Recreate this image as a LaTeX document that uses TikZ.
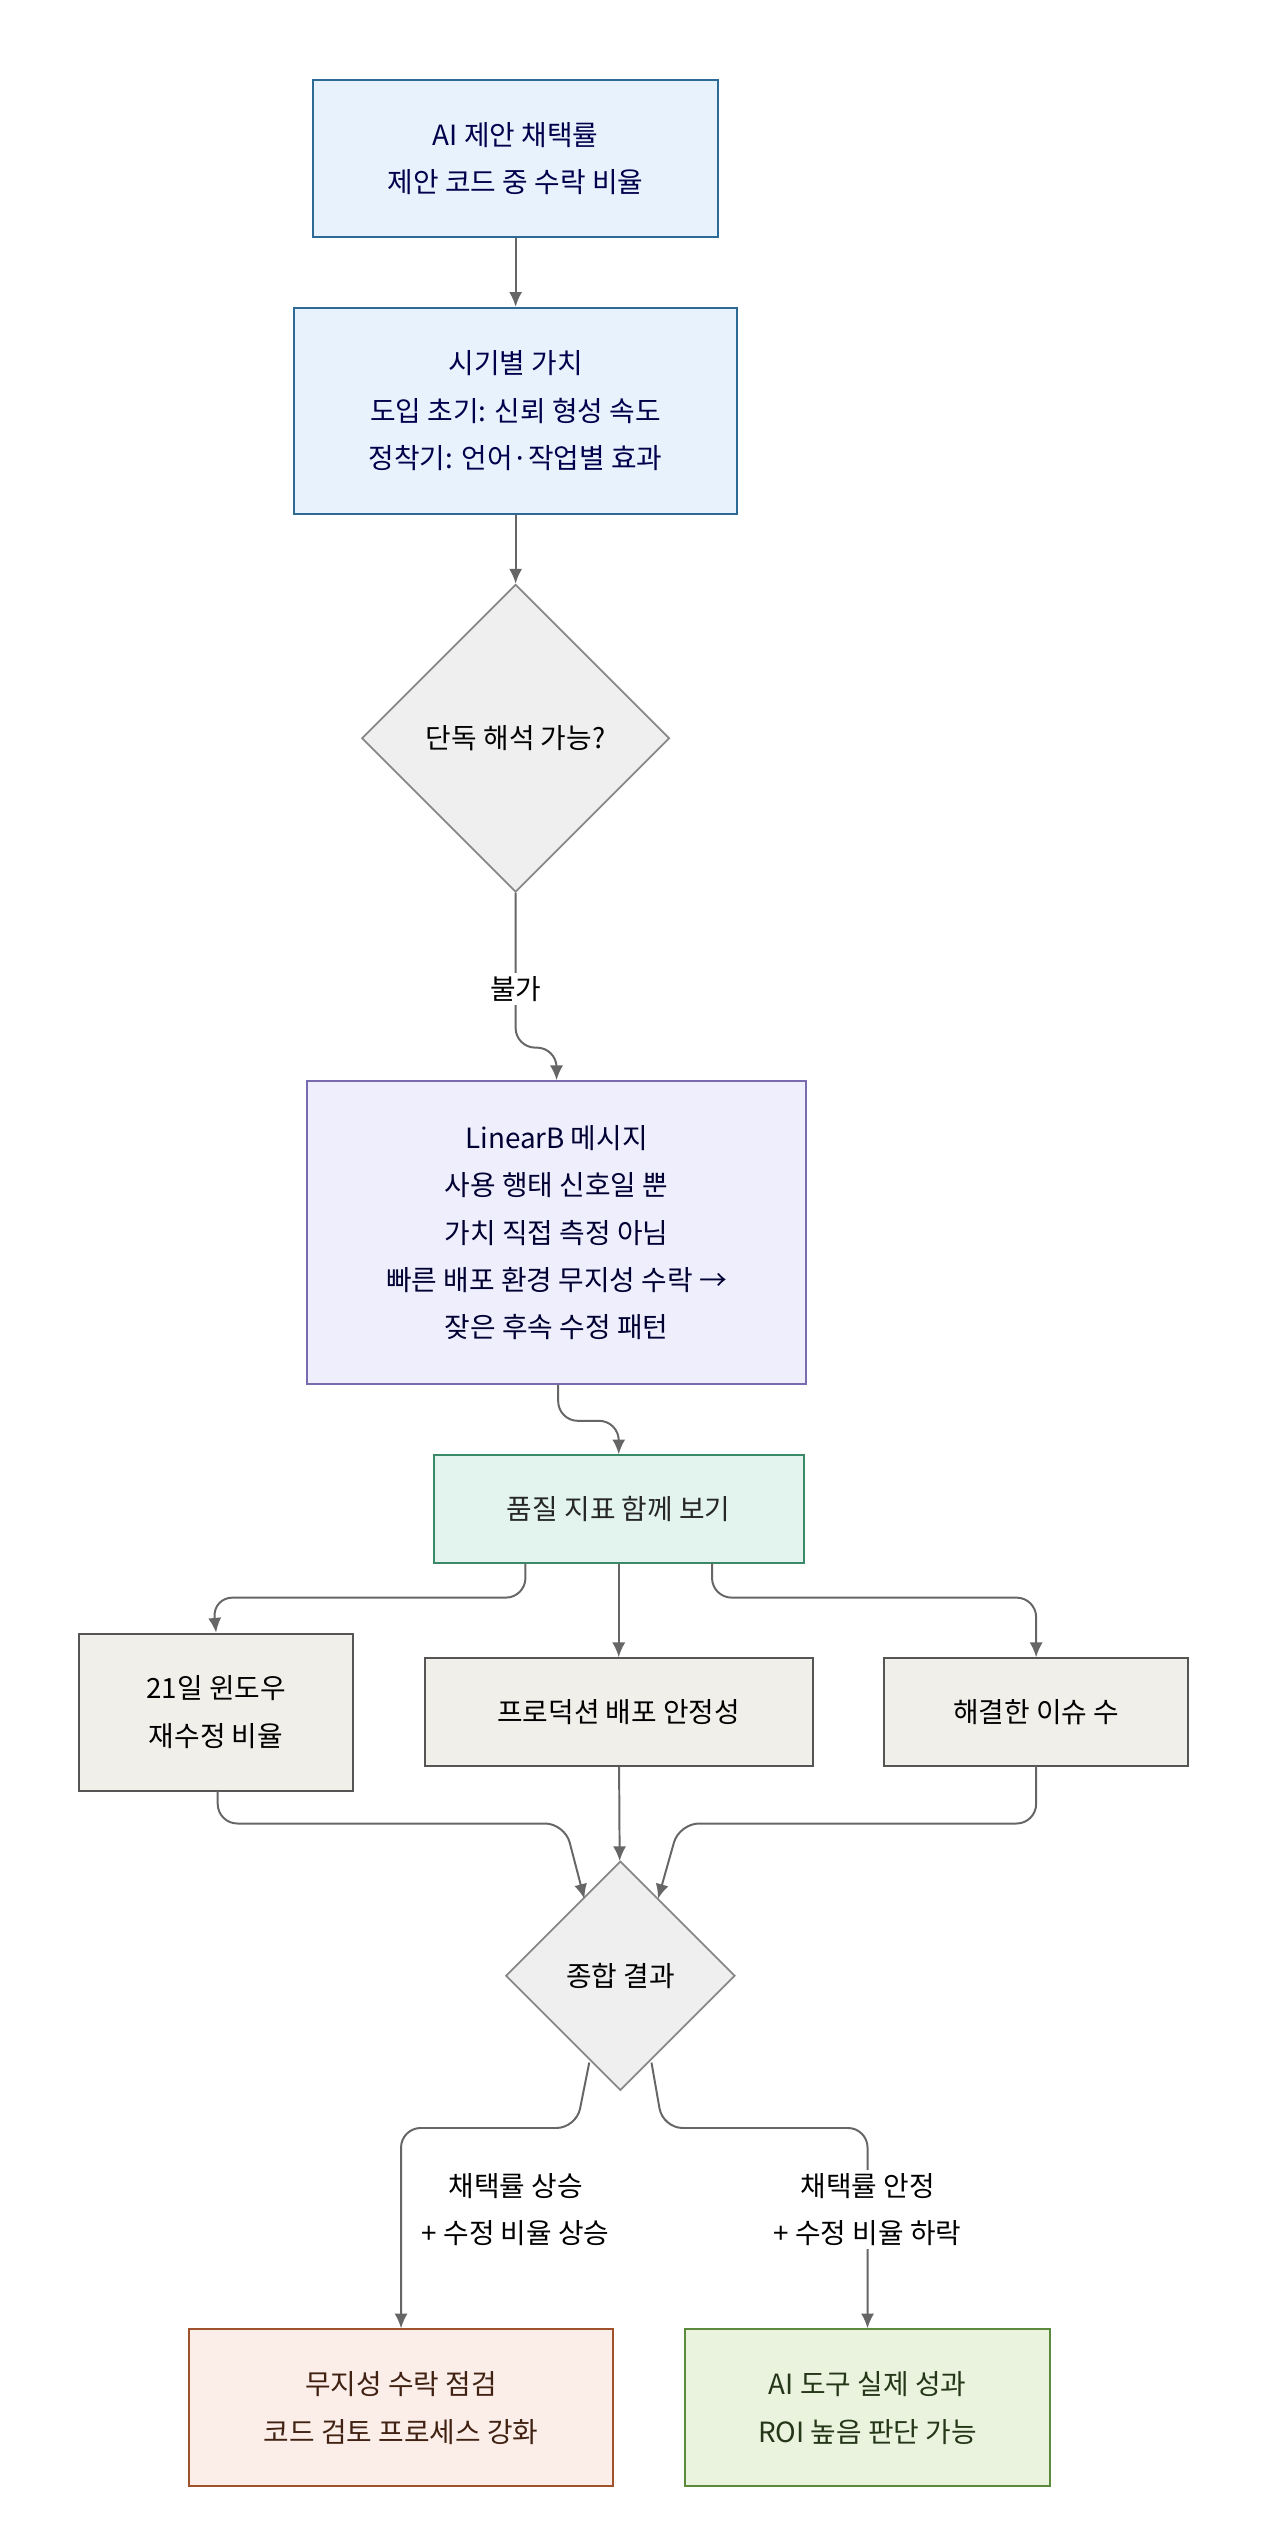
\documentclass[tikz,border=0pt]{standalone}
\usepackage{fontspec}
\setmainfont{Noto Sans CJK KR}
\usetikzlibrary{shapes.geometric,arrows.meta}
\definecolor{bfill}{HTML}{E8F2FC}\definecolor{bdraw}{HTML}{2E6A96}
\definecolor{pfill}{HTML}{EEEEFD}\definecolor{pdraw}{HTML}{7A6BB0}
\definecolor{gfill}{HTML}{E3F4EE}\definecolor{gdraw}{HTML}{3A8A6A}
\definecolor{nfill}{HTML}{F1EFEA}\definecolor{ndraw}{HTML}{555555}
\definecolor{rfill}{HTML}{FBEEE8}\definecolor{rdraw}{HTML}{A0522D}
\definecolor{lfill}{HTML}{EAF3DE}\definecolor{ldraw}{HTML}{5A8A3A}
\definecolor{dfill}{HTML}{EFEFEF}\definecolor{ddraw}{HTML}{888888}
\definecolor{edge}{HTML}{666666}
\begin{document}
\begin{tikzpicture}[x=1pt,y=-1pt,
 box/.style={draw,line width=1.2pt,align=center,inner sep=0pt,font=\fontsize{17}{29}\selectfont},
 dia/.style={draw=ddraw,fill=dfill,line width=1pt,diamond,aspect=1,inner sep=0pt,align=center,font=\fontsize{17}{29}\selectfont},
 lab/.style={align=center,font=\fontsize{17}{29}\selectfont,fill=white,inner sep=2pt},
 arr/.style={draw=edge,line width=1.2pt,-{Latex[length=9pt,width=8pt]},rounded corners=12pt}]
\useasboundingbox[fill=white] (0,0) rectangle (770,1556);
\node[box,fill=bfill,draw=bdraw,text=blue!30!black,minimum width=247pt,minimum height=96pt] (a) at (315,97) {AI 제안 채택률\\제안 코드 중 수락 비율};
\node[box,fill=bfill,draw=bdraw,text=blue!30!black,minimum width=271pt,minimum height=126pt] (b) at (315,251) {시기별 가치\\도입 초기: 신뢰 형성 속도\\정착기: 언어·작업별 효과};
\node[dia,minimum width=188pt,minimum height=188pt] (c) at (315,451) {단독 해석 가능?};
\node[box,fill=pfill,draw=pdraw,text=blue!20!black,minimum width=305pt,minimum height=185pt] (d) at (340,753) {LinearB 메시지\\사용 행태 신호일 뿐\\가치 직접 측정 아님\\빠른 배포 환경 무지성 수락 →\\잦은 후속 수정 패턴};
\node[box,fill=gfill,draw=gdraw,text=black!85,minimum width=226pt,minimum height=66pt] (e) at (378,922) {품질 지표 함께 보기};
\node[box,fill=nfill,draw=ndraw,minimum width=167pt,minimum height=96pt] (f) at (132,1046) {21일 윈도우\\재수정 비율};
\node[box,fill=nfill,draw=ndraw,minimum width=237pt,minimum height=66pt] (g) at (378,1046) {프로덕션 배포 안정성};
\node[box,fill=nfill,draw=ndraw,minimum width=186pt,minimum height=66pt] (h) at (633,1046) {해결한 이슈 수};
\node[dia,minimum width=140pt,minimum height=140pt] (i) at (379,1207) {종합 결과};
\node[box,fill=rfill,draw=rdraw,text=rdraw!40!black,minimum width=259pt,minimum height=96pt] (j) at (245,1471) {무지성 수락 점검\\코드 검토 프로세스 강화};
\node[box,fill=lfill,draw=ldraw,text=ldraw!40!black,minimum width=223pt,minimum height=96pt] (k) at (530,1471) {AI 도구 실제 성과\\ROI 높음 판단 가능};
\draw[arr] (a) -- (b);
\draw[arr] (b) -- (c);
\draw[arr] (c.south) -- (315,640) -- (340,640) -- (d.north);
\node[lab] (l1) at (315,604) {불가};
\draw[arr] (341,846) -- (341,868) -- (378,868) -- (e.north);
\draw[arr] (321,955) -- (321,976) -- (130,976) -- (f.north);
\draw[arr] (e) -- (g);
\draw[arr] (435,955) -- (435,976) -- (633,976) -- (h.north);
\draw[arr] (133,1094) -- (133,1114) -- (345,1114) -- (357,1160);
\draw[arr] (g) -- (i);
\draw[arr] (633,1079) -- (633,1114) -- (415,1114) -- (402,1160);
\draw[arr] (360,1260) -- (352,1300) -- (245,1300) -- (j.north);
\draw[arr] (398,1260) -- (405,1300) -- (530,1300) -- (k.north);
\node[lab] (l2) at (315,1350) {채택률 상승\\+ 수정 비율 상승};
\node[lab] (l3) at (530,1350) {채택률 안정\\+ 수정 비율 하락};
\end{tikzpicture}
\end{document}
